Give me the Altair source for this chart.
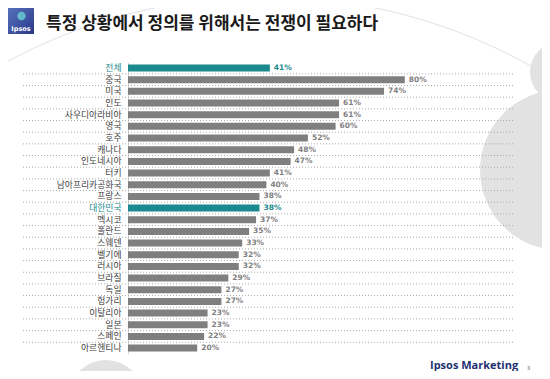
import altair as alt
import pandas as pd

categories = ["전체", "중국", "미국", "인도", "사우디아라비아", "영국", "호주", "캐나다",
              "인도네시아", "터키", "남아프리카공화국", "프랑스", "대한민국", "멕시코",
              "폴란드", "스웨덴", "벨기에", "러시아", "브라질", "독일", "헝가리",
              "이탈리아", "일본", "스페인", "아르헨티나"]
values = [41, 80, 74, 61, 61, 60, 52, 48, 47, 41, 40, 38, 38, 37, 35, 33, 32, 32,
          29, 27, 27, 23, 23, 22, 20]
highlight = ["전체", "대한민국"]
title_text = "특정 상황에서 정의를 위해서는 전쟁이 필요하다"
footer_text = "Ipsos Marketing"
page_no = "3"
logo_text = "Ipsos"

TEAL = "#1b8a8e"
GRAY_BAR = "#7f7f7f"
DECO = "#e2e2e2"

df = pd.DataFrame({"country": categories, "value": values})
df["hl"] = df["country"].isin(highlight)
df["label"] = df["value"].astype(str) + "%"

N = len(categories)
W, H = 346, 291.7
STEP = H / N
PL, PT = 120, 54.2
CW, CH = 534, 363

# image coordinates of plot origin (page margin 8px)
OX, OY = PL + 8, PT + 8


def px(x):
    return x - OX


def py(y):
    return y - OY


hl_expr = "datum.value == '전체' || datum.value == '대한민국' ? '%s' : '#404040'" % TEAL
yaxis = alt.Axis(title=None, domain=True, domainColor="#d5d5d5", domainWidth=1,
                 ticks=False, grid=False, labelFont="Noto Sans CJK KR",
                 labelFontSize=8.8, labelColor=alt.expr(hl_expr), labelPadding=7)
yscale = alt.Scale(domain=categories, paddingInner=0, paddingOuter=0)
yenc = alt.Y("country:N", sort=categories, scale=yscale, axis=yaxis)
xenc = alt.X("value:Q", scale=alt.Scale(domain=[0, 100]), axis=None)
col = alt.condition("datum.hl", alt.value(TEAL), alt.value(GRAY_BAR))

one = pd.DataFrame({"a": [0]})

# background decorations
arc = alt.Chart(one).mark_point(filled=False, color=DECO, strokeWidth=1, opacity=1).encode(
    x=alt.value(px(265)), y=alt.value(py(540)), size=alt.value(1087 ** 2))
body = alt.Chart(one).mark_point(filled=True, color=DECO, opacity=1).encode(
    x=alt.value(px(560)), y=alt.value(py(170)), size=alt.value(160 ** 2))
head = alt.Chart(one).mark_point(filled=True, color=DECO, opacity=1).encode(
    x=alt.value(px(560)), y=alt.value(py(72)), size=alt.value(60 ** 2))
blob = alt.Chart(one).mark_point(filled=True, color=DECO, opacity=1).encode(
    x=alt.value(px(106)), y=alt.value(py(398)), size=alt.value(76 ** 2))

grid = alt.Chart(df.iloc[1:]).mark_rule(strokeDash=[1, 2], color="#aaaaaa", strokeWidth=1,
                                        yOffset=-STEP / 2).encode(
    y=alt.Y("country:N", sort=categories, scale=yscale, axis=yaxis),
    x=alt.value(px(23)), x2=alt.value(px(513)))

bars = alt.Chart(df).mark_bar(size=7).encode(x=xenc, y=yenc, color=col)

labels = alt.Chart(df).mark_text(align="left", baseline="middle", dx=4, font="DejaVu Sans",
                                 fontSize=7.5, fontWeight="bold").encode(
    x=xenc, y=yenc, text="label:N", color=col)

title = alt.Chart(one).mark_text(text=title_text, align="left", baseline="alphabetic",
                                 font="Noto Sans CJK KR", fontSize=17, fontWeight="bold",
                                 color="#1a1a1a").encode(
    x=alt.value(px(46)), y=alt.value(py(29)))

logo = alt.Chart(one).mark_rect(color=alt.Gradient(
    gradient="linear",
    stops=[alt.GradientStop(color="#5673bd", offset=0),
           alt.GradientStop(color="#2a3688", offset=1)],
    x1=0, x2=1, y1=0, y2=1)).encode(
    x=alt.value(px(8)), x2=alt.value(px(34)), y=alt.value(py(8)), y2=alt.value(py(34)))
logo_head = alt.Chart(one).mark_point(filled=True, color="#63b9cc", opacity=1).encode(
    x=alt.value(px(21.5)), y=alt.value(py(16)), size=alt.value(70))
logo_txt = alt.Chart(one).mark_text(text=logo_text, align="center", baseline="alphabetic",
                                    font="DejaVu Sans", fontSize=6.5, fontWeight="bold",
                                    color="white").encode(
    x=alt.value(px(21)), y=alt.value(py(31)))

footer = alt.Chart(one).mark_text(text=footer_text, align="left", baseline="alphabetic",
                                  font="Open Sans", fontSize=11, fontWeight="bold",
                                  color="#233072").encode(
    x=alt.value(px(430)), y=alt.value(py(369)))
page = alt.Chart(one).mark_text(text=page_no, align="left", baseline="alphabetic",
                                font="DejaVu Sans", fontSize=5, color="#606060").encode(
    x=alt.value(px(527)), y=alt.value(py(370)))

chart = alt.layer(arc, body, head, blob, grid, bars, labels, title, logo, logo_head,
                  logo_txt, footer, page).properties(
    width=W, height=H,
    padding={"left": PL, "top": PT, "right": CW - PL - W, "bottom": CH - PT - H},
    autosize=alt.AutoSizeParams(type="none"),
    background="white",
).configure_view(stroke=None)

chart.save("out.html", embed_options={"renderer": "svg", "actions": False})
